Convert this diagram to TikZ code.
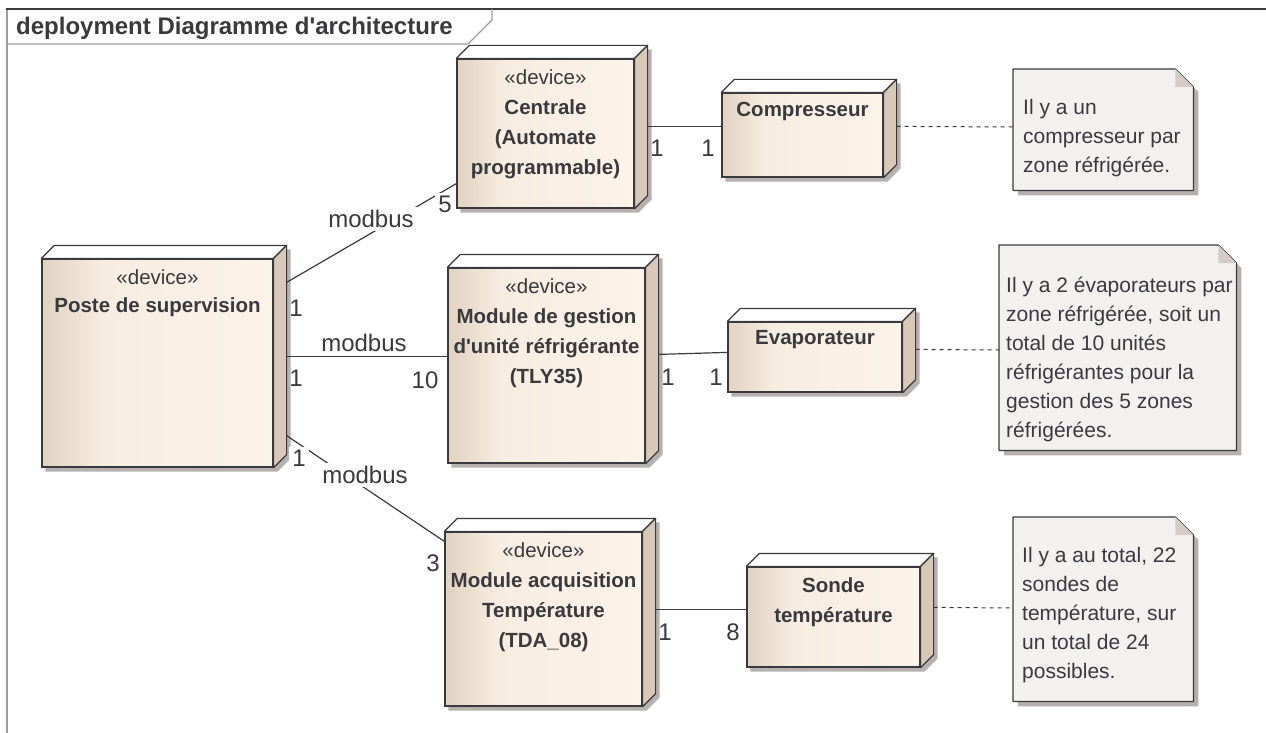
\documentclass[tikz,border=0pt]{standalone}
\usepackage{fontspec}
\setmainfont{Liberation Sans}
\usetikzlibrary{calc}
\pgfdeclarelayer{background}
\pgfsetlayers{background,main}
\usepackage{xcolor}
\definecolor{inkgray}{RGB}{58,58,62}
\definecolor{boxleft}{RGB}{225,210,193}
\definecolor{boxmid}{RGB}{247,236,224}
\definecolor{boxright}{RGB}{252,243,233}
\definecolor{boxside}{RGB}{216,200,184}
\definecolor{notefill}{RGB}{242,241,240}
\definecolor{notefold}{RGB}{212,203,199}
\definecolor{shadowgray}{RGB}{182,176,176}
\pgfdeclarehorizontalshading{devshade}{100bp}{color(0bp)=(boxleft); color(25bp)=(boxleft); color(38bp)=(boxmid); color(75bp)=(boxright); color(100bp)=(boxright)}

\begin{document}
\begin{tikzpicture}[x=1pt,y=-1pt,
  text=inkgray,
  devbox/.style={draw=inkgray, line width=1.2pt, shading=devshade, inner sep=0pt},
  devtext/.style={anchor=north, align=center, inner sep=0pt, font=\fontsize{20.5}{30}\selectfont},
  notebox/.style={anchor=north west, inner sep=0pt},
  notetext/.style={anchor=north west, align=left, inner sep=0pt, font=\fontsize{21}{29}\selectfont},
  mult/.style={inner sep=3pt, font=\fontsize{24}{28}\selectfont},
  cut/.style={mult, fill=white},
  link/.style={draw=inkgray, line width=1.2pt},
  notelink/.style={draw=inkgray, line width=1pt, dash pattern=on 4pt off 4pt}]

\useasboundingbox (0,0) rectangle (1266,733) ;

%frame
\draw [gray!75, line width=2pt] (7,733) -- (7,9) ;
\draw [inkgray, line width=2pt] (6,9) -- (1266,9) ;
\draw [gray!75, line width=1.2pt] (7,44) -- (468,44) -- (492,20) -- (492,9) ;
\node [anchor=west, inner sep=0pt, font=\fontsize{24}{28}\selectfont\bfseries] (title) at (16,28) {deployment Diagramme d\textquotesingle architecture} ;

%devices
\node [devbox, minimum width=231pt, minimum height=208pt] (poste) at (157.5,363) {} ;
\node [devbox, minimum width=177pt, minimum height=149pt] (centrale) at (545.5,133.5) {} ;
\node [devbox, minimum width=161pt, minimum height=84pt] (compresseur) at (802.5,135) {} ;
\node [devbox, minimum width=197pt, minimum height=195pt] (gestion) at (546.5,365.5) {} ;
\node [devbox, minimum width=174pt, minimum height=70pt] (evaporateur) at (815,357) {} ;
\node [devbox, minimum width=197pt, minimum height=174pt] (acquisition) at (543.5,619) {} ;
\node [devbox, minimum width=173pt, minimum height=100pt] (sonde) at (833.5,617) {} ;

%top, side and shadow of the devices
\foreach \n in {poste,centrale,compresseur,gestion,evaporateur,acquisition,sonde} {
  \filldraw [fill=white, draw=inkgray, line width=1.2pt, line join=round] (\n.north west) -- ($(\n.north west)+(13,-13)$) -- ($(\n.north east)+(13,-13)$) -- (\n.north east) -- cycle ;
  \filldraw [fill=boxside, draw=inkgray, line width=1.2pt, line join=round] (\n.north east) -- ($(\n.north east)+(13,-13)$) -- ($(\n.south east)+(13,-13)$) -- (\n.south east) -- cycle ;
  \begin{pgfonlayer}{background}
    \fill [shadowgray] ($(\n.south west)+(4,4)$) -- ($(\n.north west)+(4,4)$) -- ($(\n.north west)+(17,-9)$) -- ($(\n.north east)+(17,-9)$) -- ($(\n.south east)+(17,-9)$) -- ($(\n.south east)+(4,4)$) -- cycle ;
  \end{pgfonlayer}
}

%device texts
\node [devtext] (poste-t) at ([yshift=-11pt]poste.north) {«device»\\[-2pt]\textbf{Poste de supervision}} ;
\node [devtext] (centrale-t) at ([yshift=-11pt]centrale.north) {«device»\\\textbf{Centrale}\\\textbf{(Automate}\\\textbf{programmable)}} ;
\node [devtext] (compresseur-t) at ([yshift=-10pt]compresseur.north) {\textbf{Compresseur}} ;
\node [devtext] (gestion-t) at ([yshift=-11pt]gestion.north) {«device»\\\textbf{Module de gestion}\\\textbf{d\textquotesingle unité réfrigérante}\\\textbf{(TLY35)}} ;
\node [devtext] (evaporateur-t) at ([yshift=-9pt]evaporateur.north) {\textbf{Evaporateur}} ;
\node [devtext] (acquisition-t) at ([yshift=-11pt]acquisition.north) {«device»\\\textbf{Module acquisition}\\\textbf{Température}\\\textbf{(TDA\_08)}} ;
\node [devtext] (sonde-t) at ([yshift=-11pt]sonde.north) {\textbf{Sonde}\\\textbf{température}} ;

%notes
\node [notebox, minimum width=180pt, minimum height=121pt] (note1) at (1013,69) {} ;
\node [notebox, minimum width=237pt, minimum height=205pt] (note2) at (999,245) {} ;
\node [notebox, minimum width=180pt, minimum height=184pt] (note3) at (1013,517) {} ;

\foreach \n in {note1,note2,note3} {
  \begin{pgfonlayer}{background}
    \fill [shadowgray] ($(\n.north west)+(5,5)$) -- ($(\n.north east)+(-13,5)$) -- ($(\n.north east)+(5,23)$) -- ($(\n.south east)+(5,5)$) -- ($(\n.south west)+(5,5)$) -- cycle ;
  \end{pgfonlayer}
  \filldraw [fill=notefill, draw=inkgray, line width=1.2pt, line join=round] (\n.north west) -- ($(\n.north east)+(-18,0)$) -- ($(\n.north east)+(0,18)$) -- (\n.south east) -- (\n.south west) -- cycle ;
  \fill [notefold] ($(\n.north east)+(-18,0)$) -- ($(\n.north east)+(0,18)$) -- ($(\n.north east)+(-18,18)$) -- cycle ;
}

\node [notetext] (note1-t) at ([xshift=10pt,yshift=-30pt]note1.north west) {Il y a un\\compresseur par\\zone réfrigérée.} ;
\node [notetext] (note2-t) at ([xshift=7pt,yshift=-32pt]note2.north west) {Il y a 2 évaporateurs par\\zone réfrigérée, soit un\\total de 10 unités\\réfrigérantes pour la\\gestion des 5 zones\\réfrigérées.} ;
\node [notetext] (note3-t) at ([xshift=9pt,yshift=-30pt]note3.north west) {Il y a au total, 22\\sondes de\\température, sur\\un total de 24\\possibles.} ;

%links
\draw [link] ($(poste.north east)+(13,24)$) -- ($(centrale.south west)+(0,-25)$) ;
\draw [link] ($(poste.north east)+(13,98)$) -- ($(gestion.north west)+(0,89)$) ;
\draw [link] ($(poste.south east)+(13,-32)$) -- ($(acquisition.north west)+(0,10)$) ;
\draw [link] ($(centrale.north east)+(13,68)$) -- ($(compresseur.north west)+(0,34)$) ;
\draw [link] ($(gestion.north east)+(13,87)$) -- ($(evaporateur.north west)+(0,31)$) ;
\draw [link] ($(acquisition.north east)+(13,78)$) -- ($(sonde.north west)+(0,43)$) ;

%note links
\draw [notelink] ($(compresseur.north east)+(13,34)$) -- ($(note1.north west)+(0,58)$) ;
\draw [notelink] ($(evaporateur.north east)+(13,28)$) -- ($(note2.north west)+(0,105)$) ;
\draw [notelink] ($(sonde.north east)+(13,41)$) -- ($(note3.north west)+(0,91)$) ;

%link labels
\node [cut] (bus1) at (371,219) {modbus} ;
\node [mult] (bus1-a) at (296,308) {1} ;
\node [cut] (bus1-b) at (445,204) {5} ;
\node [mult] (bus2) at (364,343) {modbus} ;
\node [mult] (bus2-a) at (296,378) {1} ;
\node [mult] (bus2-b) at (425,380) {10} ;
\node [cut] (bus3) at (365,475) {modbus} ;
\node [cut] (bus3-a) at (299,458) {1} ;
\node [mult] (bus3-b) at (433,563) {3} ;
\node [mult] (comp-a) at (657,148) {1} ;
\node [mult] (comp-b) at (708,148) {1} ;
\node [mult] (evap-a) at (668,377) {1} ;
\node [mult] (evap-b) at (716,377) {1} ;
\node [mult] (sonde-a) at (665,632) {1} ;
\node [mult] (sonde-b) at (733,632) {8} ;

\end{tikzpicture}
\end{document}
